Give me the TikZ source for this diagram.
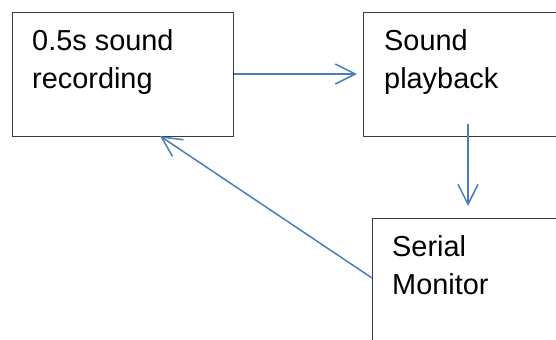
\documentclass[tikz,border=0pt]{standalone}
\usepackage{fontspec}
\setmainfont{Liberation Sans}
\usetikzlibrary{arrows.meta}
\definecolor{arrowblue}{HTML}{4A7EBB}
\definecolor{boxline}{HTML}{3A3A3A}
\begin{document}
\begin{tikzpicture}[x=1bp,y=-1bp,
  box/.style={draw=boxline, line width=1.1bp, inner sep=0pt, anchor=north west},
  lbl/.style={inner sep=0pt, anchor=base west, align=left, font=\fontsize{29}{38}\selectfont},
  conn/.style={draw=arrowblue, line width=1.5bp, -{Straight Barb[length=20bp, width=20bp, line width=1.5bp]}}]
\useasboundingbox (0,0) rectangle (556,339);
\begin{scope}
\clip (0,0) rectangle (556,339);
\node[box, minimum width=221bp, minimum height=124bp] (b1) at (12,12) {};
\node[box, minimum width=220bp, minimum height=124bp] (b2) at (363,12) {};
\node[box, minimum width=220bp, minimum height=140bp] (b3) at (372,218) {};
\end{scope}
\node[lbl] (t1) at (32,88) {0.5s sound\\recording};
\node[lbl] (t2) at (384,88) {Sound\\playback};
\node[lbl] (t3) at (392,294) {Serial\\Monitor};
\coordinate (p1) at (357,74);
\coordinate (s2) at (468,124);
\coordinate (p2) at (468,206);
\coordinate (s3) at (372,278);
\coordinate (p3) at (160,136);
\draw[conn] (b1.east |- p1) -- (p1);
\draw[conn] (s2) -- (p2);
\draw[conn] (s3) -- (p3);
\end{tikzpicture}
\end{document}
